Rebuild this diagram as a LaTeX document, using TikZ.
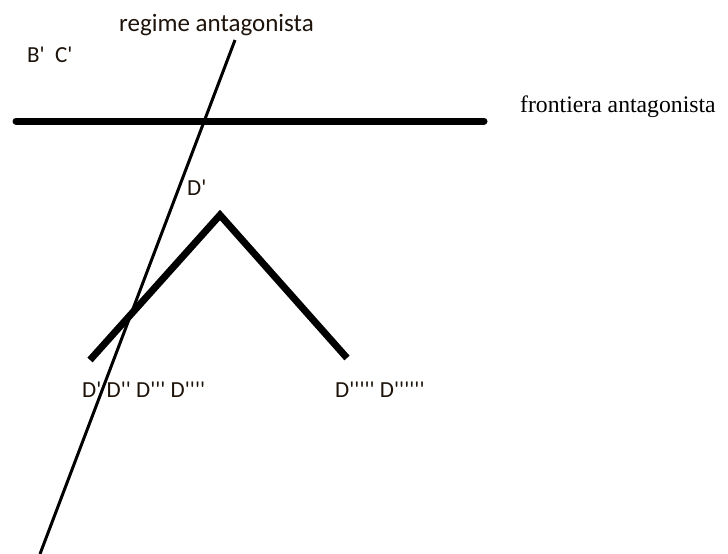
\documentclass[tikz,border=0pt]{standalone}
\usepackage{fontspec}
\setmainfont{Carlito}[Ligatures=TeXOff]
\newfontfamily\serifface{Liberation Serif}[Ligatures=TeXOff]
\begin{document}
\begin{tikzpicture}[x=1pt,y=-1pt,
  lbl/.style={inner sep=0pt,font=\fontsize{23}{26}\selectfont, text=black!85!brown},
  thick line/.style={line width=7pt,line cap=round},
  thin line/.style={line width=3pt}]
\useasboundingbox[fill=white] (0,0) rectangle (728,554);
% thin slanted line
\coordinate (rt) at (235,40);
\coordinate (rb) at (40,554);
\draw[thin line] (rt) -- (rb);
% frontier
\coordinate (fl) at (16,121);
\coordinate (fr) at (484,121);
\draw[thick line] (fl) -- (fr);
% inverted V
\coordinate (vl) at (90,360);
\coordinate (va) at (220,215);
\coordinate (vr) at (347,358);
\draw[line width=7pt,line join=miter] (vl) -- (va) -- (vr);
% labels
\node[lbl,anchor=base west,font=\fontsize{25}{28}\selectfont] (reg) at (119,31) {regime antagonista};
\node[lbl,anchor=base west] (bc) at (27,62) {B'\ \ C'};
\node[lbl,anchor=base west,text=black,font=\serifface\fontsize{23.7}{26}\selectfont] (fro) at (520,112) {frontiera antagonista};
\node[lbl,anchor=base west] (d1) at (187,195) {D'};
\node[lbl,anchor=base west] (dd) at (82,397) {D' D'' D''' D''''};
\node[lbl,anchor=base west] (de) at (335,397) {D''''' D''''''};
\end{tikzpicture}
\end{document}
